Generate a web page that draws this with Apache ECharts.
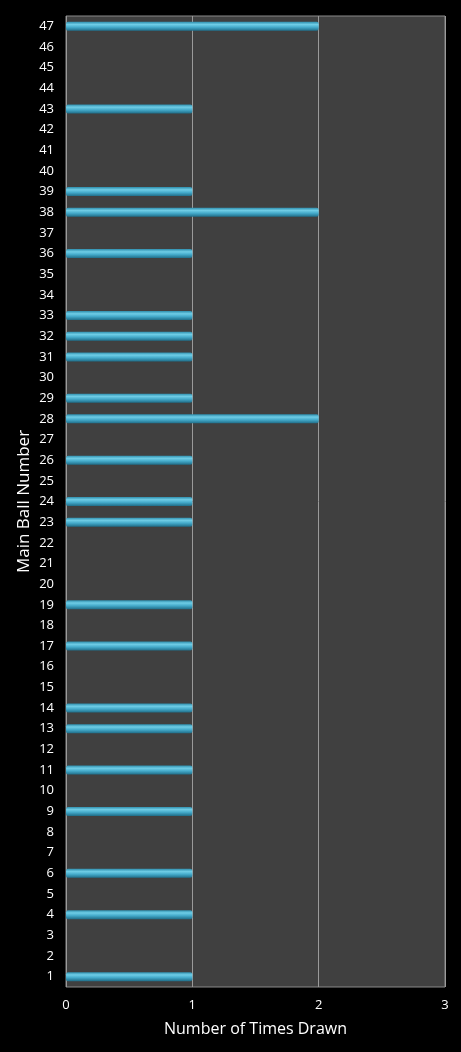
<!DOCTYPE html>
<html>
<head>
<meta charset="utf-8">
<style>
  html, body { margin: 0; padding: 0; background: #000; }
  #chart { width: 461px; height: 1052px; }
</style>
<script src="https://cdn.jsdelivr.net/npm/echarts@6/dist/echarts.min.js"></script>
</head>
<body>
<div id="chart"></div>
<script>
// ball numbers 1..47
const ballNumbers = ['1','2','3','4','5','6','7','8','9','10','11','12','13','14','15','16','17','18','19','20',
  '21','22','23','24','25','26','27','28','29','30','31','32','33','34','35','36','37','38','39','40',
  '41','42','43','44','45','46','47']
// times drawn
const timesDrawn = [1,0,0,1,0,1,0,0,1,0,1,0,1,1,0,0,1,0,1,0,
  0,0,1,1,0,1,0,2,1,0,1,1,1,0,0,1,0,2,1,0,
  0,0,1,0,0,0,2]
const xTicks = [0, 1, 2, 3]

const myChart = echarts.init(document.getElementById('chart'))
myChart.setOption({
  backgroundColor: '#000',
  textStyle: { fontFamily: '"Open Sans", sans-serif' },
  grid: {
    left: 66, right: 16, top: 16, bottom: 65,
    show: true,
    backgroundColor: '#404040',
    borderColor: '#8a8a8a',
    borderWidth: 1
  },
  xAxis: {
    type: 'value',
    min: xTicks[0],
    max: xTicks[xTicks.length - 1],
    interval: 1,
    name: 'Number of Times Drawn',
    nameLocation: 'middle',
    nameGap: 34,
    nameMoveOverlap: false,
    nameTextStyle: { color: '#fff', fontSize: 16 },
    axisLine: { show: false },
    axisTick: { show: false },
    axisLabel: { color: '#fff', fontSize: 13, margin: 12 },
    splitLine: { show: true, lineStyle: { color: '#9a9a9a', width: 1 } }
  },
  yAxis: {
    type: 'category',
    data: ballNumbers,
    name: 'Main Ball Number',
    nameLocation: 'middle',
    nameGap: 33,
    nameMoveOverlap: false,
    nameTextStyle: { color: '#fff', fontSize: 17 },
    axisLine: { show: false },
    axisTick: { show: false },
    axisLabel: { color: '#fff', fontSize: 13, margin: 12, interval: 0 },
    splitLine: { show: false }
  },
  series: [
    {
      name: 'Times Drawn',
      type: 'bar',
      data: timesDrawn,
      barWidth: 9,
      itemStyle: {
        color: new echarts.graphic.LinearGradient(0, 0, 0, 1, [
          { offset: 0, color: '#2f8fae' },
          { offset: 0.3, color: '#6fcde6' },
          { offset: 0.6, color: '#45abcb' },
          { offset: 1, color: '#1f6d88' }
        ]),
        borderRadius: 2
      },
      animation: false
    }
  ]
})
</script>
</body>
</html>
